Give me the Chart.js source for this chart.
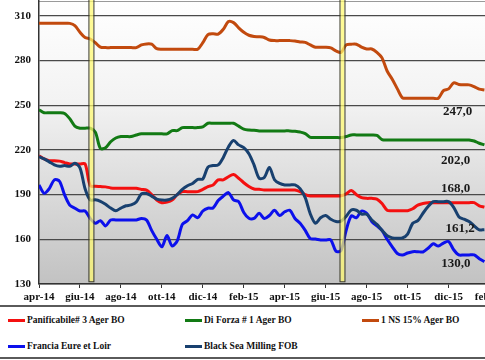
<!DOCTYPE html>
<html>
<head>
<meta charset="utf-8">
<script src="https://cdn.jsdelivr.net/npm/chart.js@4.4.1/dist/chart.umd.min.js"></script>
<style>
  body { margin: 0; width: 485px; height: 360px; overflow: hidden; background: #fff; }
  #wrap { position: absolute; left: 0; top: 0; width: 510px; height: 305px; }
  #legend { position: absolute; left: 0; top: 305px; width: 485px; height: 50px;
            border-top: 2px solid #5a5a5a; border-bottom: 2px solid #5a5a5a; }
  .item { position: absolute; font: bold 9.5px 'Liberation Serif', 'Times New Roman', serif;
          color: #111; white-space: nowrap; line-height: 12px; }
  .item span { display: inline-block; width: 17px; height: 3px; vertical-align: middle; margin-right: 2px; }
</style>
</head>
<body>
<div id="wrap"><canvas id="chart" width="510" height="305"></canvas></div>
<div id="legend"></div>
<script>
// weekly quotes, EUR/t (apr-14 .. gen-16)
const panificabile = [216, 214, 212.8, 212.8, 212.5, 211.5, 210.6, 210.6, 210.6, 210.6,
  196, 195.6, 195.4, 195.2, 194.5, 194.3, 194.3, 194.3, 194.3, 194.3,
  193.5, 193, 190, 186.4, 184.6, 185, 186.4, 190, 192, 192,
  192, 192, 193.5, 195.4, 196.5, 199.9, 199.9, 202, 203.5, 201,
  198, 195.5, 193.8, 193.6, 193.1, 193.1, 193.1, 193.1, 193.1, 193.1,
  193.1, 192, 190, 189.1, 189.1, 189.1, 189.1, 189.1, 189.1, 189.2,
  190.5, 192.7, 190, 188, 187.5, 187.5, 187, 184, 179.5, 179.2,
  179.2, 179.2, 179.2, 180.5, 183, 184, 184.6, 184.6, 184.6, 184.6,
  184.6, 184.6, 184.6, 184.6, 184.6, 184.6, 182.5, 181.6];

const diForza = [247, 245, 245, 245, 245, 244.5, 241, 236, 234.6, 234.6,
  234.6, 232, 221, 221.5, 225.5, 228, 229, 229, 229, 230,
  230.8, 230.8, 230.8, 230.8, 230.8, 230.8, 233, 233, 235, 235,
  235, 235, 235.5, 237.9, 237.9, 237.9, 237.9, 237.9, 237.9, 236,
  234, 233.4, 233.2, 232.8, 232.8, 232.8, 232.8, 232.8, 232.8, 232.8,
  232.5, 232, 231, 228.5, 228.3, 228.3, 228.3, 228.3, 228.3, 228.3,
  229, 230.1, 230.1, 230.1, 230.1, 230.1, 229.8, 227, 226.7, 226.7,
  226.7, 226.7, 226.7, 226.7, 226.7, 226.7, 226.7, 226.7, 226.7, 226.7,
  226.7, 226.7, 226.7, 226.7, 226.7, 226, 224.5, 223.4];

const ns15 = [305, 305, 305, 305, 305, 305, 305, 303.5, 299, 295.5,
  294.5, 292, 289, 288.7, 288.7, 288.7, 288.7, 288.7, 288.7, 288.7,
  290.5, 291.2, 291, 288, 287.6, 287.6, 287.6, 287.6, 287.6, 287.6,
  287.6, 287.6, 292, 297.5, 298, 297.8, 301, 306.2, 305.5, 302,
  299, 297, 296.2, 296, 295.5, 293.8, 293.4, 293.4, 293.4, 293.4,
  293.2, 292.5, 292.2, 290.5, 289, 289, 289, 288.5, 286.5, 285.5,
  290.5, 291, 291, 289, 287.8, 287.8, 285.5, 281.8, 273, 267.5,
  261, 255, 254.7, 254.7, 254.7, 254.7, 254.7, 254.7, 254.7, 259.8,
  261, 265, 264, 263.7, 263.7, 262.5, 260.8, 260.3];

const francia = [196.5, 190.9, 194, 199.9, 199, 189.8, 183, 180.9, 179, 179,
  174, 170.8, 172.5, 169, 173, 173, 173, 173, 173, 173,
  174, 173, 166, 160, 155, 162.5, 155.5, 159, 170, 172.5,
  176.4, 174.5, 179, 180.9, 181, 186, 189, 191.4, 186.5, 185.3,
  178, 174.1, 174, 177.5, 174, 176, 179.5, 176, 178.5, 179.5,
  174, 170.8, 166, 160.5, 160.2, 159.6, 159.6, 159.6, 152, 152.5,
  166, 175.7, 174.5, 179, 177.5, 172, 169, 166, 160, 155,
  150.5, 149.5, 150.8, 151.7, 151.7, 151.5, 154, 157, 155.5, 157.5,
  158.5, 153, 149.5, 149.5, 149.5, 149.5, 147, 145];

const blackSea = [215.5, 214, 212, 210, 209, 209.5, 209, 211, 208, 194,
  186.4, 186.5, 185.5, 183.5, 181, 179.2, 181, 182.5, 183.1, 185,
  190.5, 190.8, 189, 187, 186.4, 186.4, 187.5, 190, 193.6, 196,
  197.5, 200.3, 200.5, 208.5, 209.5, 210, 215, 222, 226.3, 223.4,
  221.5, 217.5, 210, 201, 201.5, 208.3, 200, 197.5, 196.5, 196.5,
  196.5, 194, 188, 177, 170.8, 174.5, 176, 173.5, 172, 172.2,
  175.5, 179.7, 179.5, 177, 176.8, 173, 170, 166, 162.5, 161,
  160.7, 160.9, 163.5, 170.8, 172.5, 177.5, 182, 185.3, 185.3, 185.3,
  185.3, 181.5, 175.2, 173.5, 172, 169, 166.3, 166.5];

// x position of each weekly point, in months from apr-14
const months = panificabile.map((v, i) => i * 0.25);

const tickMonths = [0, 2, 4, 6, 8, 10, 12, 14, 16, 18, 20, 22];
const monthLabels = ['apr-14', 'giu-14', 'ago-14', 'ott-14', 'dic-14', 'feb-15',
  'apr-15', 'giu-15', 'ago-15', 'ott-15', 'dic-15', 'feb-16'];
const yTicks = [130, 160, 190, 220, 250, 280, 310];

const seriesNames = ['Panificabile# 3 Ager BO', 'Di Forza # 1 Ager BO', '1 NS 15% Ager BO',
  'Francia Eure et Loir', 'Black Sea Milling FOB'];
const seriesColors = ['#f41010', '#127a14', '#c24a0e', '#0c10ec', '#18406f'];
const seriesData = [panificabile, diForza, ns15, francia, blackSea];

// yellow event bars (month position)
const markerMonths = [2.56, 14.82];

// last-value labels
const lastLabels = ['247,0', '202,0', '168,0', '161,2', '130,0'];
const lastLabelPos = [[20.44, 245.5], [20.34, 212.6], [20.34, 193.8], [20.56, 167.3], [20.36, 143.5]];

const serif = "'Liberation Serif', 'Times New Roman', serif";

const bgPlugin = {
  id: 'bg',
  beforeDraw(chart) {
    const { ctx, chartArea: a } = chart;
    const g = ctx.createLinearGradient(0, a.top, 0, a.bottom);
    g.addColorStop(0, '#ffffff');
    g.addColorStop(0.35, '#f3f3f3');
    g.addColorStop(1, '#c2c2c2');
    ctx.save();
    ctx.fillStyle = g;
    ctx.fillRect(a.left, a.top, a.right - a.left, a.bottom - a.top);
    ctx.strokeStyle = '#9a9a9a';
    ctx.lineWidth = 1;
    ctx.beginPath();
    ctx.moveTo(a.left, a.top + 0.5);
    ctx.lineTo(a.right, a.top + 0.5);
    ctx.stroke();
    ctx.restore();
  },
  afterDatasetsDraw(chart) {
    const { ctx, scales } = chart;
    ctx.save();
    // event markers
    markerMonths.forEach(m => {
      const x = scales.x.getPixelForValue(m);
      const yb = scales.y.getPixelForValue(131.5);
      ctx.fillStyle = 'rgba(255, 250, 110, 0.72)';
      ctx.fillRect(x - 2, 0, 4, yb);
      ctx.strokeStyle = '#3a3a2a';
      ctx.lineWidth = 1;
      ctx.strokeRect(x - 2.5, -1, 5, yb + 1);
    });
    // labels
    ctx.fillStyle = '#1a1a1a';
    ctx.font = 'bold 13px ' + serif;
    ctx.textAlign = 'center';
    ctx.textBaseline = 'middle';
    lastLabels.forEach((t, i) => {
      ctx.fillText(t, scales.x.getPixelForValue(lastLabelPos[i][0]), scales.y.getPixelForValue(lastLabelPos[i][1]));
    });
    ctx.restore();
  }
};

// draw order: later series on top
const datasets = seriesData.map((d, i) => ({
  label: seriesNames[i],
  data: d.map((v, k) => ({ x: months[k], y: v })),
  borderColor: seriesColors[i],
  borderWidth: 3,
  pointRadius: 0,
  tension: 0.3,
  fill: false,
  order: seriesData.length - i
}));

new Chart(document.getElementById('chart'), {
  type: 'line',
  data: { datasets: datasets },
  options: {
    responsive: false,
    animation: false,
    layout: { padding: { top: 1, left: 0, right: 0, bottom: 0 } },
    plugins: { legend: { display: false }, tooltip: { enabled: false } },
    scales: {
      x: {
        type: 'linear',
        min: 0,
        max: 23,
        afterBuildTicks: s => { s.ticks = tickMonths.map(v => ({ value: v })); },
        afterFit: s => { s.height = 21; },
        ticks: {
          callback: (v, i) => monthLabels[i],
          autoSkip: false,
          maxRotation: 0,
          padding: 3,
          color: '#111',
          font: { family: serif, size: 11, weight: 'bold' }
        },
        grid: { drawOnChartArea: false, tickLength: 4, color: '#333' },
        border: { color: '#333', width: 1.5 }
      },
      y: {
        min: 130,
        max: 320,
        afterBuildTicks: s => { s.ticks = yTicks.map(v => ({ value: v })); },
        afterFit: s => { s.width = 39; s.paddingTop = 0; s.paddingBottom = 0; },
        ticks: {
          padding: 8,
          color: '#111',
          font: { family: serif, size: 11, weight: 'bold' }
        },
        grid: { color: '#4a4a4a', lineWidth: 1.2, drawTicks: false },
        border: { color: '#333', width: 1.5 }
      }
    }
  },
  plugins: [bgPlugin]
});

// legend
const legend = document.getElementById('legend');
const legendPos = [[8, 7], [185, 7], [362, 7], [8, 33], [185, 33]];
seriesNames.forEach((name, i) => {
  const el = document.createElement('div');
  el.className = 'item';
  el.style.left = legendPos[i][0] + 'px';
  el.style.top = legendPos[i][1] + 'px';
  el.innerHTML = '<span style="background:' + seriesColors[i] + '"></span>' + name;
  legend.appendChild(el);
});
</script>
</body>
</html>
